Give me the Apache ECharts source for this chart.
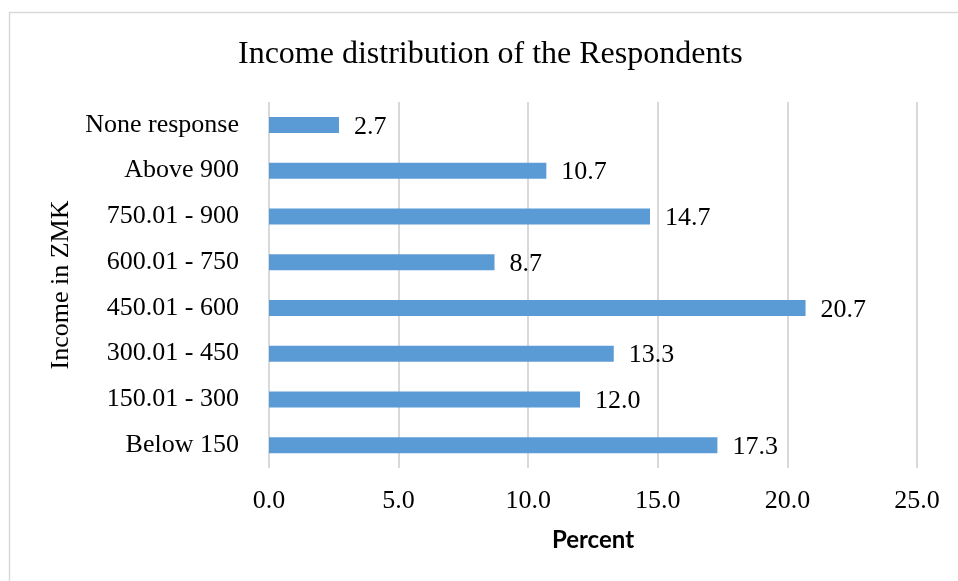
<!DOCTYPE html>
<html>
<head>
<meta charset="utf-8">
<script src="https://cdn.jsdelivr.net/npm/echarts@6/dist/echarts.min.js"></script>
<style>
html,body{margin:0;padding:0;background:#fff;}
#c{width:958px;height:581px;}
</style>
</head>
<body>
<div id="c"></div>
<script>
var categories = ["Below 150", "150.01 - 300", "300.01 - 450", "450.01 - 600", "600.01 - 750", "750.01 - 900", "Above 900", "None response"];
var percentValues = [17.3, 12.0, 13.3, 20.7, 8.7, 14.7, 10.7, 2.7];
var xTicks = {min: 0, max: 25, interval: 5};

var serif = '"Liberation Serif", "Times New Roman", serif';
var chart = echarts.init(document.getElementById('c'), null, {renderer: 'canvas'});
chart.setOption({
  backgroundColor: '#ffffff',
  animation: false,
  graphic: [{
    type: 'rect',
    shape: {x: 9.5, y: 12.5, width: 1000, height: 700},
    style: {fill: 'none', stroke: '#d9d9d9', lineWidth: 1.5},
    silent: true
  }],
  title: {
    text: 'Income distribution of the Respondents',
    left: 233,
    top: 34,
    textStyle: {fontFamily: serif, fontSize: 32, fontWeight: 'normal', color: '#000'}
  },
  grid: {left: 269, right: 41, top: 102, bottom: 113, containLabel: false},
  xAxis: {
    type: 'value',
    min: xTicks.min, max: xTicks.max, interval: xTicks.interval,
    name: 'Percent',
    nameLocation: 'middle',
    nameGap: 60,
    nameTextStyle: {fontFamily: 'Lato, "Liberation Sans", sans-serif', fontWeight: 'bold', fontSize: 24, color: '#000'},
    axisLine: {show: false},
    axisTick: {show: false},
    axisLabel: {fontFamily: serif, fontSize: 26, color: '#000', margin: 20,
      formatter: function (v) { return v.toFixed(1); }},
    splitLine: {show: true, lineStyle: {color: '#d9d9d9', width: 2}}
  },
  yAxis: {
    type: 'category',
    data: categories,
    name: 'Income in ZMK',
    nameLocation: 'middle',
    nameGap: 195,
    nameRotate: 90,
    nameTextStyle: {fontFamily: serif, fontSize: 26, color: '#000'},
    axisLine: {show: false},
    axisTick: {show: false},
    axisLabel: {fontFamily: serif, fontSize: 26, color: '#000', margin: 30},
    splitLine: {show: false}
  },
  series: [{
    type: 'bar',
    data: percentValues,
    barWidth: 16,
    itemStyle: {color: '#5b9bd5'},
    label: {
      show: true,
      position: 'right',
      distance: 15,
      offset: [0, 2],
      fontFamily: serif,
      fontSize: 26,
      color: '#000',
      formatter: function (p) { return p.value.toFixed(1); }
    }
  }]
});
</script>
</body>
</html>
